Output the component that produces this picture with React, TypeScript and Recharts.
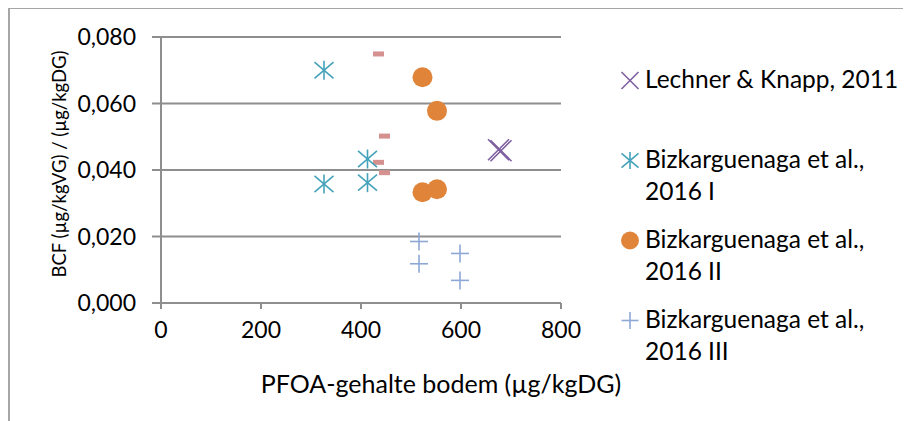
import React from 'react';
import { ScatterChart, Scatter, XAxis, YAxis, CartesianGrid, Legend } from 'recharts';

// ---- data ----
const lechnerX = [675, 680];
const lechnerY = [0.0461, 0.0458];
const biz1X = [326, 413, 326, 413];
const biz1Y = [0.070, 0.0433, 0.0358, 0.0362];
const biz2X = [523, 552, 523, 552];
const biz2Y = [0.0679, 0.0578, 0.0333, 0.0342];
const biz3X = [516, 516, 598, 598];
const biz3Y = [0.0185, 0.0118, 0.0149, 0.0068];
const otherX = [435, 447, 435, 447];
const otherY = [0.0749, 0.0502, 0.0423, 0.0392];

const xTicks = [0, 200, 400, 600, 800];
const yTicks = [0, 0.02, 0.04, 0.06, 0.08];

const seriesNames = [
  'Lechner & Knapp, 2011',
  'Bizkarguenaga et al., 2016 I',
  'Bizkarguenaga et al., 2016 II',
  'Bizkarguenaga et al., 2016 III',
];
const xTitle = 'PFOA-gehalte bodem (µg/kgDG)';
const yTitle = 'BCF (µg/kgVG) / (µg/kgDG)';

const zip = (xs: number[], ys: number[]) => xs.map((x, i) => ({ x, y: ys[i] }));

const C_PURPLE = '#7D5FA0';
const C_TEAL = '#44A2BA';
const C_ORANGE = '#E0843A';
const C_BLUE = '#8EA8D6';
const C_PINK = '#D4918F';
const GRID = '#8E8E8E';
const FONT = 'Lato, "Liberation Sans", sans-serif';

// ---- marker shapes ----
const drawX = (cx: number, cy: number, r: number, color: string) => (
  <g>
    <line x1={cx - r} y1={cy - r} x2={cx + r} y2={cy + r} stroke={color} strokeWidth={1.6} />
    <line x1={cx - r} y1={cy + r} x2={cx + r} y2={cy - r} stroke={color} strokeWidth={1.6} />
  </g>
);
const drawStar = (cx: number, cy: number, r: number, color: string) => (
  <g>
    <line x1={cx - r} y1={cy - r * 0.85} x2={cx + r} y2={cy + r * 0.85} stroke={color} strokeWidth={1.6} />
    <line x1={cx - r} y1={cy + r * 0.85} x2={cx + r} y2={cy - r * 0.85} stroke={color} strokeWidth={1.6} />
    <line x1={cx} y1={cy - r} x2={cx} y2={cy + r} stroke={color} strokeWidth={1.6} />
  </g>
);
const drawCircle = (cx: number, cy: number, r: number, color: string) => (
  <circle cx={cx} cy={cy} r={r} fill={color} />
);
const drawPlus = (cx: number, cy: number, r: number, color: string) => (
  <g>
    <line x1={cx - r} y1={cy} x2={cx + r} y2={cy} stroke={color} strokeWidth={1.6} />
    <line x1={cx} y1={cy - r} x2={cx} y2={cy + r} stroke={color} strokeWidth={1.6} />
  </g>
);
const drawDash = (cx: number, cy: number, color: string) => (
  <rect x={cx - 5.5} y={cy - 2.5} width={11} height={5} fill={color} />
);

const shapeX = (p: any) => drawX(p.cx, p.cy, 10.5, C_PURPLE);
const shapeStar = (p: any) => drawStar(p.cx, p.cy, 9.5, C_TEAL);
const shapeCircle = (p: any) => drawCircle(p.cx, p.cy, 10, C_ORANGE);
const shapePlus = (p: any) => drawPlus(p.cx, p.cy, 9, C_BLUE);
const shapeDash = (p: any) => drawDash(p.cx, p.cy, C_PINK);

const legendMarkers: Record<string, (cx: number, cy: number) => React.ReactNode> = {
  [seriesNames[0]]: (cx, cy) => drawX(cx, cy, 8.5, C_PURPLE),
  [seriesNames[1]]: (cx, cy) => drawStar(cx, cy, 8.5, C_TEAL),
  [seriesNames[2]]: (cx, cy) => drawCircle(cx, cy, 9, C_ORANGE),
  [seriesNames[3]]: (cx, cy) => drawPlus(cx, cy, 8.5, C_BLUE),
};

const wrapName = (name: string): string[] => {
  const idx = name.indexOf('al., ');
  if (idx >= 0) return [name.slice(0, idx + 4), name.slice(idx + 5)];
  return [name];
};

const LegendContent = (props: any) => {
  const payload = (props.payload || [])
    .filter((e: any) => legendMarkers[e.value])
    .sort((a: any, b: any) => seriesNames.indexOf(a.value) - seriesNames.indexOf(b.value));
  return (
    <svg width={300} height={340} style={{ display: 'block', overflow: 'visible' }}>
      {payload.map((e: any, i: number) => {
        const base = 41 + i * 80;
        const lines = wrapName(e.value);
        return (
          <g key={e.value}>
            {legendMarkers[e.value](22, base - 7.5)}
            <text x={37} y={base} fontFamily={FONT} fontSize={24.5} fill="#000">
              {lines.map((l, j) => (
                <tspan key={j} x={37} y={base + j * 31.5}>{l}</tspan>
              ))}
            </text>
          </g>
        );
      })}
    </svg>
  );
};

const YTitle = (props: any) => {
  const vb = props.viewBox || { x: 0, y: 30, width: 153, height: 266 };
  const cx = 58;
  const cy = vb.y + vb.height / 2 - 6;
  return (
    <text x={cx} y={cy} transform={`rotate(-90, ${cx}, ${cy})`} textAnchor="middle"
      fontFamily={FONT} fontSize={18.5} fill="#000">{yTitle}</text>
  );
};

const XTitle = (props: any) => {
  const vb = props.viewBox || { x: 153, y: 296, width: 400, height: 40 };
  const cx = vb.x + vb.width / 2 + 80;
  return (
    <text x={cx} y={386} textAnchor="middle" fontFamily={FONT} fontSize={25} fill="#000">{xTitle}</text>
  );
};

export default function App() {
  return (
    <div style={{ position: 'relative', marginTop: -1, width: 903, height: 414 }}>
      <div style={{
        position: 'absolute', left: 0, top: 0, width: 903, height: 414, boxSizing: 'border-box',
        borderLeft: '2px solid #A6A6A6', borderTop: '2px solid #A6A6A6', pointerEvents: 'none',
      }} />
      <ScatterChart width={903} height={414} margin={{ top: 30, right: 350, bottom: 78, left: 0 }}>
        <CartesianGrid horizontal vertical={false} stroke={GRID} strokeWidth={2} />
        <XAxis type="number" dataKey="x" domain={[0, 800]} ticks={xTicks} interval={0}
          axisLine={{ stroke: GRID, strokeWidth: 2 }} tickLine={{ stroke: GRID, strokeWidth: 2 }}
          tickSize={6} tickMargin={13} height={40}
          tick={{ fontFamily: FONT, fontSize: 23, fill: '#000' }}
          label={<XTitle />} />
        <YAxis type="number" dataKey="y" domain={[0, 0.08]} ticks={yTicks} interval={0}
          tickFormatter={(v: number) => v.toFixed(3).replace('.', ',')}
          axisLine={{ stroke: GRID, strokeWidth: 2 }} tickLine={{ stroke: GRID, strokeWidth: 2 }}
          tickSize={9} tickMargin={16} width={153}
          tick={{ fontFamily: FONT, fontSize: 23, fill: '#000' }}
          label={<YTitle />} />
        <Legend layout="vertical" align="center" verticalAlign="middle" content={<LegendContent />}
          wrapperStyle={{ left: 600, top: 40, width: 300, height: 340 }} />
        <Scatter name="other" data={zip(otherX, otherY)} shape={shapeDash} legendType="none" isAnimationActive={false} />
        <Scatter name={seriesNames[0]} data={zip(lechnerX, lechnerY)} shape={shapeX} fill={C_PURPLE} isAnimationActive={false} />
        <Scatter name={seriesNames[1]} data={zip(biz1X, biz1Y)} shape={shapeStar} fill={C_TEAL} isAnimationActive={false} />
        <Scatter name={seriesNames[2]} data={zip(biz2X, biz2Y)} shape={shapeCircle} fill={C_ORANGE} isAnimationActive={false} />
        <Scatter name={seriesNames[3]} data={zip(biz3X, biz3Y)} shape={shapePlus} fill={C_BLUE} isAnimationActive={false} />
      </ScatterChart>
    </div>
  );
}
